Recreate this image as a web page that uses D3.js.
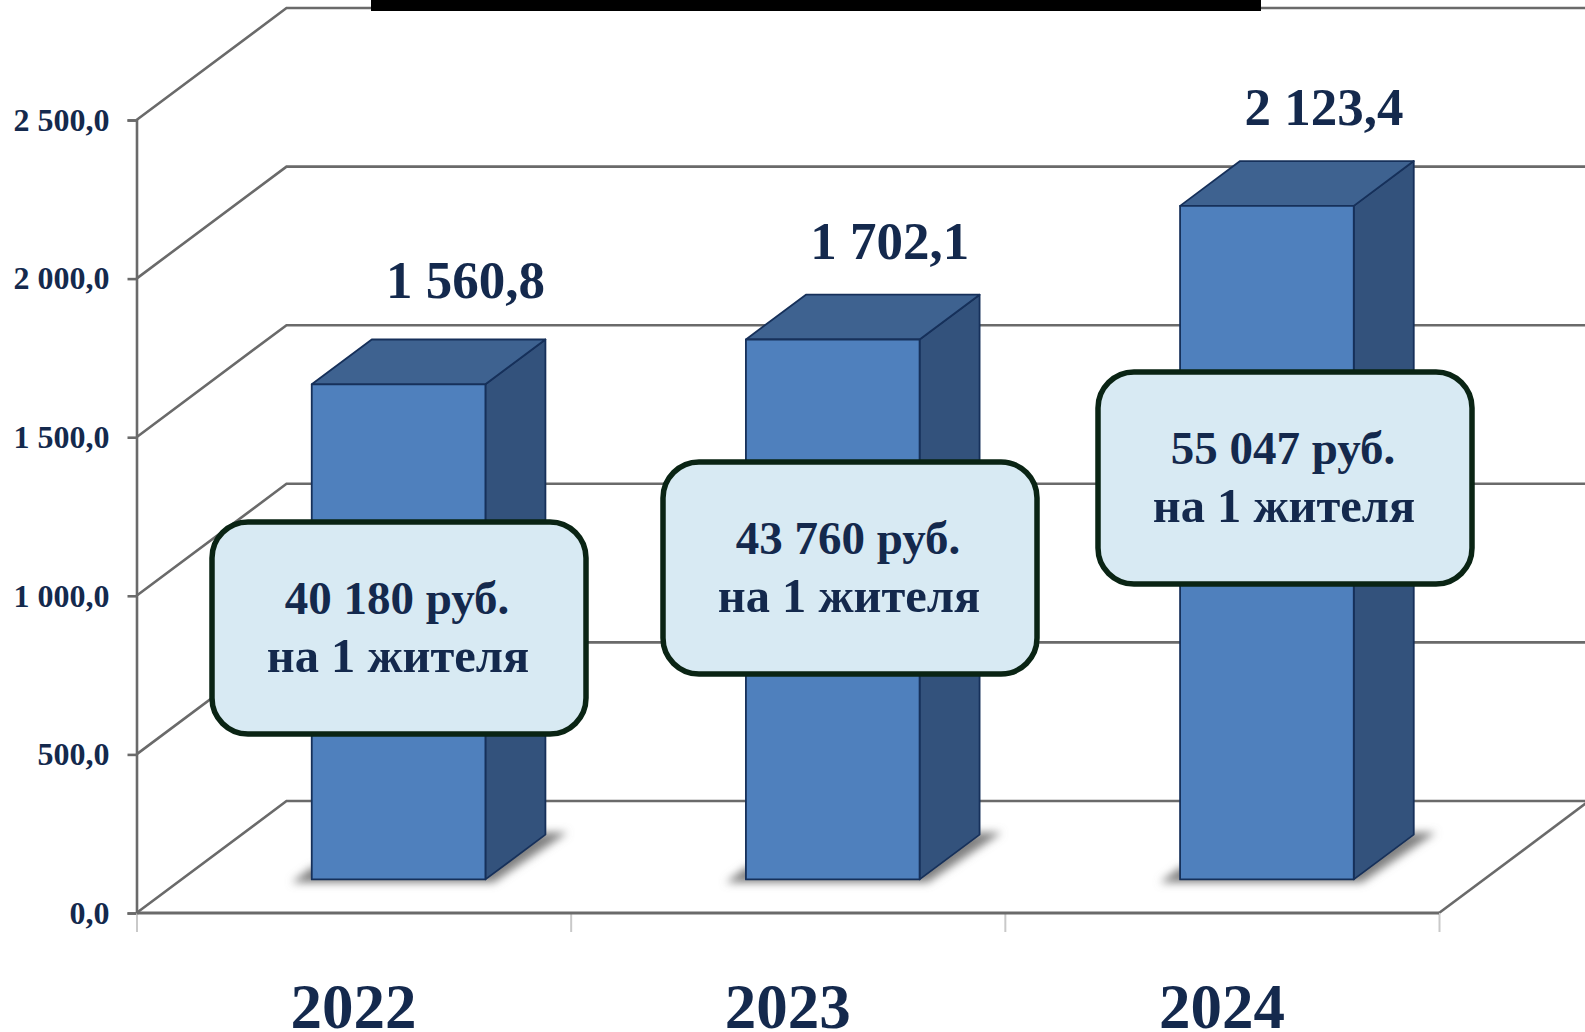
<!DOCTYPE html>
<html>
<head>
<meta charset="utf-8">
<script src="https://cdn.jsdelivr.net/npm/d3@7"></script>
<style>
    html, body { margin: 0; padding: 0; background: #fff; overflow: hidden; }
    text { font-family: "Liberation Serif", serif; font-weight: bold; fill: #14294d; }
</style>
</head>
<body>
<svg id="chart" width="1585" height="1032"></svg>
<script>
const years = ["2022", "2023", "2024"];
const totals = [1560.8, 1702.1, 2123.4];
const perResident = [40180, 43760, 55047];
const yTicks = [0, 500, 1000, 1500, 2000, 2500];

const residentNote = "на 1 жителя";

// label nudges, the source placed these by hand
const valueNudge = [[67, 86], [57, 80], [57, 81]];
const calloutTop = [519, 459, 369];
const calloutLeft = [209, 660, 1095];
const calloutW = 380, calloutH = 218;

const svg = d3.select("#chart");
const ruLocale = d3.formatLocale({ decimal: ",", thousands: " ", grouping: [3], currency: ["", ""] });
const fmtValue = ruLocale.format(",.1f");
const fmtInt = ruLocale.format(",d");

const left = 136.5, right = 1439, baseY = 913, topY = 120;
const depthX = 150, depthY = 112;

const x = d3.scaleBand().domain(years).range([left, right]).paddingInner(0.6).paddingOuter(0.3);
const y = d3.scaleLinear().domain([0, 2500]).range([baseY, topY]);
const edges = d3.scaleLinear().domain([0, years.length]).range([left, right]);
// z: 0 front of the floor, 1 back wall
const zx = d3.scaleLinear().domain([0, 1]).range([0, depthX]);
const zy = d3.scaleLinear().domain([0, 1]).range([0, depthY]);
const barFront = 0.3, barBack = 0.7;

const defs = svg.append("defs");
defs.append("filter").attr("id", "soft")
    .attr("x", "-20%").attr("y", "-40%").attr("width", "140%").attr("height", "180%")
    .append("feGaussianBlur").attr("stdDeviation", 4.5);

const gridColor = "#6a6a6a";
const walls = svg.append("g").attr("class", "walls")
    .attr("fill", "none").attr("stroke", gridColor).attr("stroke-width", 2.6);

walls.selectAll(".grid")
    .data(yTicks)
    .enter().append("polyline")
    .attr("class", "grid")
    .attr("points", d => [
        [left, y(d)],
        [left + depthX, y(d) - depthY],
        [right + depthX, y(d) - depthY]
    ].join(" "));

walls.append("line")
    .attr("x1", right).attr("y1", baseY)
    .attr("x2", right + depthX).attr("y2", baseY - depthY);

// floor shadows
const shadows = svg.append("g").attr("class", "shadows");
shadows.selectAll("polygon")
    .data(years)
    .enter().append("polygon")
    .attr("fill", "#808080")
    .attr("filter", "url(#soft)")
    .attr("points", d => {
        const x0 = x(d) + zx(barFront);
        const x1 = x0 + x.bandwidth();
        const b = y(0) - zy(barFront);
        const dx = zx(barBack) - zx(barFront), dy = zy(barBack) - zy(barFront);
        return [
            [x0 - 20, b + 3],
            [x0, b - 12],
            [x1 + dx, b - dy - 2],
            [x1 + dx + 22, b - dy - 2],
            [x1 + 8, b + 3]
        ].join(" ");
    });

// bars
const bars = svg.append("g").attr("class", "bars")
    .selectAll(".bar")
    .data(years.map((year, i) => ({ year, value: totals[i], i })))
    .enter().append("g")
    .attr("class", "bar")
    .attr("stroke", "#16305a")
    .attr("stroke-width", 1.8)
    .attr("stroke-linejoin", "round");

const frontX = d => x(d.year) + zx(barFront);
const frontTop = d => y(d.value) - zy(barFront);
const frontBase = () => y(0) - zy(barFront);
const dX = zx(barBack) - zx(barFront);
const dY = zy(barBack) - zy(barFront);

bars.append("polygon")
    .attr("fill", "#33527c")
    .attr("points", d => {
        const r = frontX(d) + x.bandwidth();
        return [[r, frontTop(d)], [r + dX, frontTop(d) - dY], [r + dX, frontBase() - dY], [r, frontBase()]].join(" ");
    });

bars.append("polygon")
    .attr("fill", "#3e6290")
    .attr("points", d => {
        const l = frontX(d), r = l + x.bandwidth();
        return [[l, frontTop(d)], [l + dX, frontTop(d) - dY], [r + dX, frontTop(d) - dY], [r, frontTop(d)]].join(" ");
    });

bars.append("rect")
    .attr("fill", "#4f80bd")
    .attr("x", frontX)
    .attr("y", frontTop)
    .attr("width", x.bandwidth())
    .attr("height", d => frontBase() - frontTop(d));

// value labels above the bars
svg.append("g").attr("class", "values")
    .selectAll("text")
    .data(years.map((year, i) => ({ year, value: totals[i], i })))
    .enter().append("text")
    .attr("text-anchor", "middle")
    .attr("font-size", 53)
    .attr("x", d => frontX(d) + x.bandwidth() / 2 + valueNudge[d.i][0])
    .attr("y", d => frontTop(d) - valueNudge[d.i][1])
    .text(d => fmtValue(d.value));

// y axis
const yAxis = svg.append("g").attr("transform", `translate(${left},0)`)
    .call(d3.axisLeft(y).tickValues(yTicks).tickSize(9).tickPadding(18).tickFormat(fmtValue));
yAxis.select(".domain").attr("stroke", gridColor).attr("stroke-width", 2.6);
yAxis.selectAll(".tick line").attr("stroke", gridColor).attr("stroke-width", 2.6);
yAxis.selectAll("text").attr("font-size", 32).style("font-family", '"Liberation Serif", serif').style("font-weight", "bold");

// x axis: short pale ticks on the band edges
const xTicks = svg.append("g").attr("transform", `translate(0,${baseY})`)
    .call(d3.axisBottom(edges).tickValues(d3.range(years.length + 1)).tickSize(19).tickFormat(""));
xTicks.selectAll(".tick line").attr("stroke", "#c9c9c9").attr("stroke-width", 2);
xTicks.select(".domain").remove();

svg.append("line")
    .attr("x1", left).attr("y1", baseY).attr("x2", right).attr("y2", baseY)
    .attr("stroke", gridColor).attr("stroke-width", 2.8);

const xLabels = svg.append("g").attr("transform", `translate(0,${baseY})`)
    .call(d3.axisBottom(d3.scaleBand().domain(years).range([left, right])).tickSize(0).tickPadding(70));
xLabels.select(".domain").remove();
xLabels.selectAll("text").attr("font-size", 63).style("font-family", '"Liberation Serif", serif').style("font-weight", "bold");

// callouts
const callouts = svg.append("g").attr("class", "callouts")
    .selectAll(".callout")
    .data(perResident)
    .enter().append("g")
    .attr("class", "callout")
    .attr("transform", (d, i) => `translate(${calloutLeft[i]},${calloutTop[i]})`);

callouts.append("rect")
    .attr("x", 3).attr("y", 3)
    .attr("width", calloutW - 6).attr("height", calloutH - 6)
    .attr("rx", 36).attr("ry", 36)
    .attr("fill", "#d8eaf3")
    .attr("stroke", "#0a2414")
    .attr("stroke-width", 5.5);

callouts.append("text")
    .attr("text-anchor", "middle")
    .attr("font-size", 47)
    .attr("x", calloutW / 2 - 2)
    .attr("y", 95)
    .text(d => `${fmtInt(d)} руб.`);

callouts.append("text")
    .attr("text-anchor", "middle")
    .attr("font-size", 48.5)
    .attr("x", calloutW / 2 - 1)
    .attr("y", 153)
    .text(residentNote);

// black strip over the title in the source
svg.append("rect")
    .attr("x", 371).attr("y", 0)
    .attr("width", 890).attr("height", 11)
    .attr("fill", "#000");
</script>
</body>
</html>
